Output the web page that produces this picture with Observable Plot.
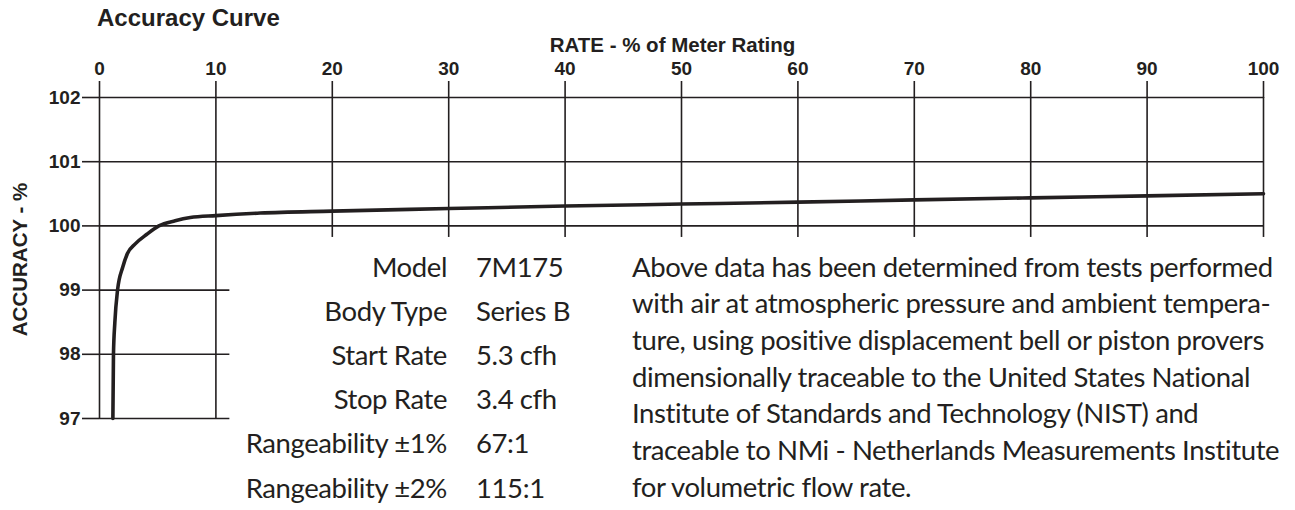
<!DOCTYPE html>
<html>
<head>
<meta charset="utf-8">
<script src="https://cdn.jsdelivr.net/npm/d3@7"></script>
<script src="https://cdn.jsdelivr.net/npm/@observablehq/plot@0.6"></script>
<style>
  html, body { margin: 0; padding: 0; background: #fff; }
  #wrap { position: relative; width: 1295px; height: 510px; overflow: hidden; }
  #wrap svg { position: absolute; left: 0; top: 0; }
  #title { position: absolute; left: 97px; top: 5.7px; font: bold 24px/24px "Liberation Sans", Arial, sans-serif; color: #231f20; }
  .txt { position: absolute; font-family: Lato, "Open Sans", sans-serif; font-size: 27.5px; letter-spacing: -0.4px; color: #231f20; white-space: pre; }
  #specLabels { left: 0; width: 447px; text-align: right; top: 244.6px; line-height: 44.2px; }
  #specValues { left: 476px; text-align: left; top: 244.6px; line-height: 44.2px; }
  #note { left: 632px; top: 248.5px; line-height: 36.7px; }
</style>
</head>
<body>
<div id="wrap">
  <div id="title"></div>
  <div id="specLabels" class="txt"></div>
  <div id="specValues" class="txt"></div>
  <div id="note" class="txt"></div>
</div>
<script>
// ---- Data ----
const chartTitle = "Accuracy Curve";
const xTitle = "RATE - % of Meter Rating";
const yTitle = "ACCURACY - %";
const xTicks = [0, 10, 20, 30, 40, 50, 60, 70, 80, 90, 100];
const yTicks = [97, 98, 99, 100, 101, 102];
const rate =     [1.15, 1.2, 1.32, 1.55, 2.0, 2.4, 3.07, 4.07, 5.1, 6.5, 7.8, 10, 13.8, 20, 30, 40, 50, 60, 70, 80, 90, 100];
const accuracy = [97.0, 98.0, 98.5, 99.0, 99.36, 99.57, 99.72, 99.87, 100.0, 100.08, 100.13, 100.16, 100.2, 100.23, 100.27, 100.31, 100.34, 100.37, 100.405, 100.437, 100.468, 100.5];
const specLabels = ["Model", "Body Type", "Start Rate", "Stop Rate", "Rangeability ±1%", "Rangeability ±2%"];
const specValues = ["7M175", "Series B", "5.3 cfh", "3.4 cfh", "67:1", "115:1"];
const noteLines = [
  "Above data has been determined from tests performed",
  "with air at atmospheric pressure and ambient tempera-",
  "ture, using positive displacement bell or piston provers",
  "dimensionally traceable to the United States National",
  "Institute of Standards and Technology (NIST) and",
  "traceable to NMi - Netherlands Measurements Institute",
  "for volumetric flow rate."
];

// ---- Grid layout (which lines span the full frame) ----
const fullGridY = [100, 101, 102];
const shortGridY = [97, 98, 99];
const shortGridYEnd = 11.2;
const fullGridX = [0, 10];
const shortGridX = [20, 30, 40, 50, 60, 70, 80, 90, 100];
const shortGridXBottom = 99.82;

const ink = "#231f20";
const curveData = rate.map((r, i) => ({rate: r, accuracy: accuracy[i]}));

const chart = Plot.plot({
  width: 1295,
  height: 510,
  marginLeft: 99,
  marginRight: 32,
  marginTop: 97,
  marginBottom: 92,
  style: {fontFamily: '"Liberation Sans", Arial, sans-serif', color: ink, background: "transparent"},
  x: {domain: [0, 100]},
  y: {domain: [97, 102]},
  marks: [
    Plot.ruleY(fullGridY, {x1: 0, x2: 100, stroke: ink, strokeWidth: 1.6}),
    Plot.ruleY(shortGridY, {x1: 0, x2: shortGridYEnd, stroke: ink, strokeWidth: 1.6}),
    Plot.ruleX(fullGridX, {y1: 97, y2: 102, stroke: ink, strokeWidth: 1.6}),
    Plot.ruleX(shortGridX, {y1: shortGridXBottom, y2: 102, stroke: ink, strokeWidth: 1.6}),
    Plot.axisX({anchor: "top", ticks: xTicks, tickFormat: d => String(d), tickSize: 17, tickPadding: 6,
      fontSize: 19, fontWeight: "bold", strokeWidth: 1.6, label: null}),
    Plot.axisY({anchor: "left", ticks: yTicks, tickFormat: d => String(d), tickSize: 17, tickPadding: 2,
      fontSize: 19, fontWeight: "bold", strokeWidth: 1.6, label: null}),
    Plot.text([xTitle], {text: d => d, frameAnchor: "top", dy: -60, dx: -9, fontSize: 20.5, fontWeight: "bold", fill: ink}),
    Plot.text([yTitle], {text: d => d, frameAnchor: "left", textAnchor: "middle", rotate: -90, dx: -79, dy: 1.5, fontSize: 20.5, fontWeight: "bold", fill: ink}),
    Plot.line(curveData, {x: "rate", y: "accuracy", curve: "monotone-x", stroke: ink, strokeWidth: 3.6})
  ]
});

const wrap = document.getElementById("wrap");
wrap.insertBefore(chart, wrap.firstChild);
document.getElementById("title").textContent = chartTitle;
document.getElementById("specLabels").textContent = specLabels.join("\n");
document.getElementById("specValues").textContent = specValues.join("\n");
document.getElementById("note").textContent = noteLines.join("\n");
</script>
</body>
</html>
